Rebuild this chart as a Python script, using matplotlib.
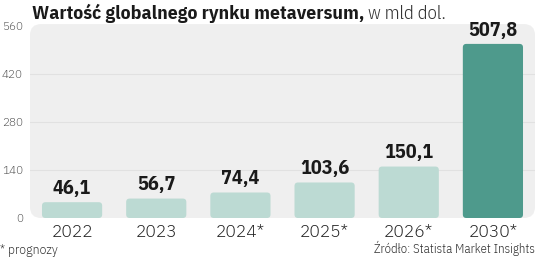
import matplotlib
matplotlib.use("Agg")
import matplotlib.pyplot as plt
from matplotlib.patches import FancyBboxPatch

categories = ["2022", "2023", "2024*", "2025*", "2026*", "2030*"]
values = [46.1, 56.7, 74.4, 103.6, 150.1, 507.8]
value_labels = ["46,1", "56,7", "74,4", "103,6", "150,1", "507,8"]
yticks = [0, 140, 280, 420, 560]

light = "#bcdad3"
dark = "#4e9a8c"
colors = [light] * 5 + [dark]

COND = "IBM Plex Sans Condensed"
PLEX = "IBM Plex Sans JP"

W, H = 536, 258
fig = plt.figure(figsize=(W / 100, H / 100), dpi=100)
fig.patch.set_facecolor("white")
ax = fig.add_axes([30 / W, 1 - 218 / H, 505 / W, 192 / H])
ax.set_facecolor("none")
ax.set_xlim(-0.5, 5.5)
ax.set_ylim(0, 560)
for s in ax.spines.values():
    s.set_visible(False)

# background panel with rounded corners
panel = FancyBboxPatch((0, 0), 1, 1.01, boxstyle="round,pad=0,rounding_size=0.022",
                       mutation_aspect=505 / 192, transform=ax.transAxes,
                       facecolor="#efefef", edgecolor="none", zorder=0, clip_on=False)
ax.add_patch(panel)

for y in yticks[1:-1]:
    ax.axhline(y, color="#e1e1e1", lw=0.8, zorder=1)

bars = ax.bar(range(len(categories)), values, width=0.715, color=colors, zorder=2)
rx = 3.5 / 84
ry = 3.5 * 560 / 192
for b in bars:
    x, y = b.get_x(), b.get_y()
    w, h = b.get_width(), b.get_height()
    fb = FancyBboxPatch((x, y), w, h, boxstyle=f"round,pad=0,rounding_size={rx}",
                        mutation_aspect=ry / rx, facecolor=b.get_facecolor(),
                        edgecolor="none", zorder=2)
    b.set_visible(False)
    ax.add_patch(fb)

for i, (v, lab) in enumerate(zip(values, value_labels)):
    ax.annotate(lab, (i, v), xytext=(0, 3), textcoords="offset points",
                ha="center", va="bottom", fontsize=14.5, fontweight="bold",
                family=COND, color="#1a1a1a", zorder=3)

ax.set_xticks(range(len(categories)))
ax.set_xticklabels(categories, fontsize=12, family=PLEX, fontweight=300, color="#222222")
ax.set_yticks(yticks)
ax.set_yticklabels([str(t) for t in yticks], fontsize=8, family=PLEX, fontweight=300, color="#555555")
ax.tick_params(axis="both", length=0)
ax.tick_params(axis="y", pad=5)
ax.tick_params(axis="x", pad=4)

t1 = fig.text(32 / W, 1 - 19 / H, "Wartość globalnego rynku metaversum,", fontsize=14,
              fontweight="bold", family=COND, color="#1a1a1a",
              ha="left", va="baseline")
fig.canvas.draw()
ax.annotate(" w mld dol.", xy=(1, 0), xycoords=t1, va="bottom", ha="left",
            fontsize=13.5, family=COND, fontweight=300, color="#333333",
            annotation_clip=False)

fig.text(0 / W, 1 - 254 / H, "* prognozy", fontsize=8.5, family=PLEX,
         fontweight=300, color="#333333", ha="left", va="baseline")
fig.text(535 / W, 1 - 253 / H, "Źródło: Statista Market Insights", fontsize=9.2,
         family=COND, fontweight=300, color="#333333", ha="right", va="baseline")

fig.savefig("out.png", dpi=100)
